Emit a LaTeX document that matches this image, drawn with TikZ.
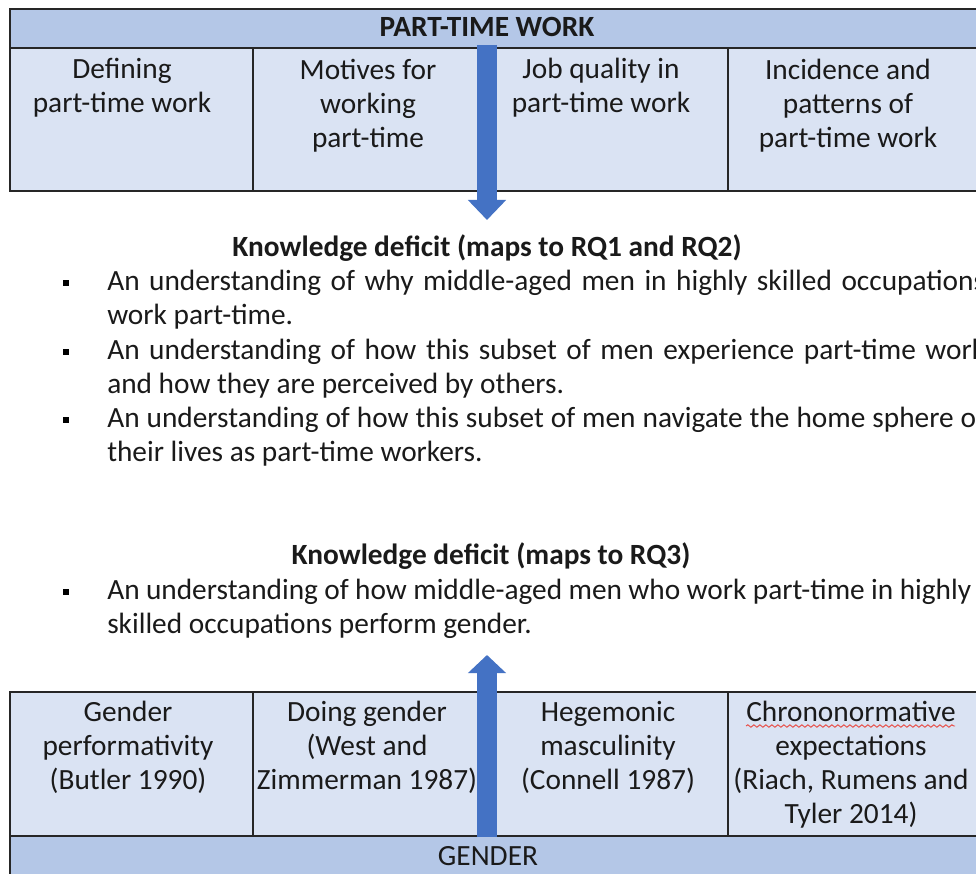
\documentclass[tikz,border=0pt]{standalone}
\usepackage{fontspec}
\setmainfont{Carlito}
\usepackage{tikz}
\usetikzlibrary{arrows.meta,decorations.pathmorphing}
\definecolor{ink}{HTML}{1A1A1A}
\definecolor{rule}{HTML}{262626}
\definecolor{barblue}{HTML}{B4C7E7}
\definecolor{cellblue}{HTML}{DAE3F3}
\definecolor{arrowblue}{HTML}{4472C4}
\definecolor{spellred}{HTML}{E8473F}
\newcommand{\fullline}[2][658.5pt]{\makebox[#1][s]{#2}}

\begin{document}
\begin{tikzpicture}[x=0.75pt,y=-0.75pt,font=\fontsize{22}{25.5}\selectfont,color=ink,
  bar/.style={fill=barblue,draw=rule,line width=1.1pt},
  cell/.style={fill=cellblue,draw=rule,line width=1.1pt},
  celltext/.style={anchor=base,align=center,inner sep=0pt},
  headtext/.style={anchor=base,inner sep=0pt,font=\fontsize{22}{25.5}\selectfont\bfseries},
  itemtext/.style={anchor=base west,align=left,inner sep=0pt},
  bulletmark/.style={fill=black,inner sep=0pt,minimum width=4.5pt,minimum height=5.2pt},
  bigarrow/.style={draw=arrowblue,line width=15pt},
  spell/.style={draw=spellred,line width=0.7pt,decorate,decoration={snake,amplitude=0.9pt,segment length=4.5pt}}]
  \useasboundingbox (0,0) rectangle (976,874);
  \clip (0,0) rectangle (976,874);
  \fill[white] (0,0) rectangle (976,874);

  % part-time work table (text nodes sit on the baseline of their last line)
  \filldraw[bar] (10,9) rectangle (1000,48);
  \foreach \xa/\xb in {10/253,253/487,487/728,728/1000}
    \filldraw[cell] (\xa,48) rectangle (\xb,191);
  \node[headtext] (ptw) at (487,37) {PART-TIME WORK};
  \node[celltext] (defining) at (122,113) {Defining\\part-time work};
  \node[celltext] (motives) at (368,147) {Motives for\\working\\part-time};
  \node[celltext] (quality) at (601,113) {Job quality in\\part-time work};
  \node[celltext] (incidence) at (848,147) {Incidence and\\patterns of\\part-time work};

  % knowledge deficits
  \node[headtext] (deficitA) at (487,256) {Knowledge deficit (maps to RQ1 and RQ2)};
  \node[bulletmark] (dotA) at (66,283) {};
  \node[itemtext] (itemA) at (107,324)
    {\fullline{An understanding of why middle-aged men in highly skilled occupations}\\work part-time.};
  \node[bulletmark] (dotB) at (66,352) {};
  \node[itemtext] (itemB) at (107,393)
    {\fullline{An understanding of how this subset of men experience part-time work}\\and how they are perceived by others.};
  \node[bulletmark] (dotC) at (66,420) {};
  \node[itemtext] (itemC) at (107,461)
    {\fullline{An understanding of how this subset of men navigate the home sphere of}\\their lives as part-time workers.};

  \node[headtext] (deficitB) at (491,564) {Knowledge deficit (maps to RQ3)};
  \node[bulletmark] (dotD) at (66,592) {};
  \node[itemtext] (itemD) at (107,633)
    {\fullline[648pt]{An understanding of how middle-aged men who work part-time in highly}\\skilled occupations perform gender.};

  % gender table
  \foreach \xa/\xb in {10/253,253/487,487/728,728/1000}
    \filldraw[cell] (\xa,692) rectangle (\xb,836);
  \filldraw[bar] (10,836) rectangle (1000,900);
  \node[celltext] (performativity) at (128,789) {Gender\\performativity\\(Butler 1990)};
  \node[celltext] (doing) at (367,789) {Doing gender\\(West and\\Zimmerman 1987)};
  \node[celltext] (hegemonic) at (608,789) {Hegemonic\\masculinity\\(Connell 1987)};
  \node[celltext] (chrono) at (851,823) {Chrononormative\\expectations\\(Riach, Rumens and\\Tyler 2014)};
  \draw[spell] (746,726) -- (955,726);
  \node[anchor=base,inner sep=0pt] (gender) at (488,865) {GENDER};

  % arrows
  \coordinate (topstart) at (487,45);
  \coordinate (toptip) at (487,220);
  \coordinate (botstart) at (487,837);
  \coordinate (bottip) at (487,655);
  \draw[bigarrow,-{Triangle[width=27.75pt,length=15pt]}] (topstart) -- (toptip);
  \draw[bigarrow,-{Triangle[width=27.75pt,length=13.5pt]}] (botstart) -- (bottip);
\end{tikzpicture}
\end{document}
